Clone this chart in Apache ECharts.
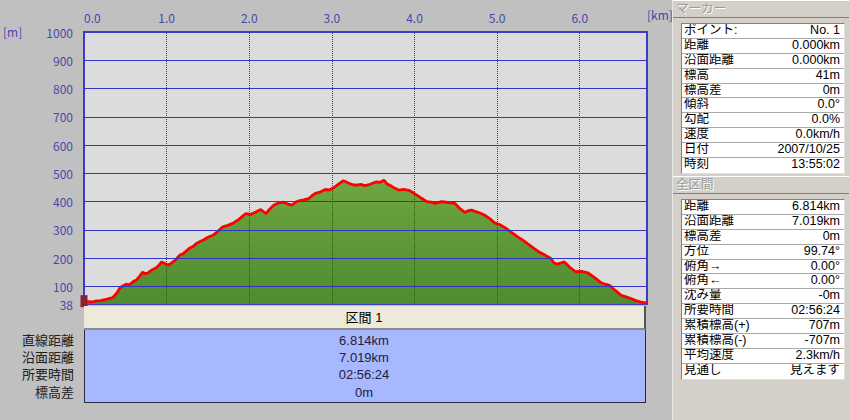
<!DOCTYPE html>
<html>
<head>
<meta charset="utf-8">
<script src="https://cdn.jsdelivr.net/npm/echarts@6/dist/echarts.min.js"></script>
<style>
  html,body{margin:0;padding:0;background:#c0c0c0;width:849px;height:420px;overflow:hidden;font-family:"Liberation Sans","Noto Sans CJK JP",sans-serif;}
  #chart{position:absolute;left:0;top:0;width:849px;height:420px;}
  #side{position:absolute;left:672px;top:0;width:177px;height:420px;background:#d4d0c8;border-left:1px solid #e8e8e8;box-sizing:border-box;}
  .hdr{position:absolute;left:0;width:177px;height:18px;background:#d4d0c8;border-top:1px solid #fff;border-bottom:1px solid #808080;box-sizing:border-box;color:#9a9a9a;font-size:12.5px;line-height:16px;padding-left:3px;text-shadow:1px 1px 0 #fff;overflow:hidden;}
  .tbl{position:absolute;left:8px;width:164px;background:#fff;border-top:1px solid #808080;border-left:1px solid #808080;border-right:1px solid #e0e0e0;border-bottom:1px solid #e0e0e0;box-sizing:border-box;}
  .row{position:relative;border-bottom:1px solid #a8a8a8;box-sizing:border-box;font-size:12.5px;color:#000;overflow:hidden;}
  .row .l{position:absolute;left:2px;top:0;white-space:nowrap;}
  .row .v{position:absolute;right:4px;top:0;white-space:nowrap;}
  #sect{position:absolute;left:84px;top:306px;width:562px;height:97px;}
  #sect .h{position:absolute;left:0;top:0;width:562px;height:24px;background:#eeeadb;border-bottom:2px solid #8a8a8a;border-right:2px solid #555;box-sizing:border-box;text-align:center;font-size:13px;line-height:23px;color:#000;}
  #sect .b{position:absolute;left:0;top:24px;width:562px;height:73px;background:#a7b8ff;border:1px solid #2a2a40;border-top:none;box-sizing:border-box;}
  .sv{position:absolute;left:0;width:560px;text-align:center;font-size:13px;line-height:15px;color:#202040;}
  .sl{position:absolute;right:775px;font-size:13px;line-height:15px;color:#202020;text-align:right;white-space:nowrap;}
</style>
</head>
<body>
<div id="chart"></div>
<div id="side"></div>
<div id="sect"></div>
<div id="sectLabels"></div>
<script>
// ---- data ----
var dist = [0.00,0.05,0.10,0.15,0.20,0.28,0.35,0.40,0.43,0.47,0.51,0.55,0.60,0.63,0.67,0.71,0.74,0.77,0.82,0.87,0.91,0.94,0.98,1.02,1.07,1.12,1.16,1.20,1.24,1.28,1.32,1.36,1.40,1.45,1.50,1.56,1.62,1.68,1.74,1.80,1.86,1.91,1.96,2.02,2.08,2.14,2.20,2.25,2.30,2.36,2.42,2.47,2.52,2.56,2.60,2.66,2.72,2.76,2.80,2.86,2.92,2.97,3.02,3.08,3.14,3.20,3.25,3.29,3.35,3.40,3.45,3.50,3.54,3.58,3.63,3.67,3.72,3.77,3.81,3.87,3.93,3.98,4.03,4.09,4.15,4.20,4.25,4.33,4.40,4.49,4.55,4.61,4.65,4.69,4.75,4.80,4.85,4.91,4.97,5.03,5.09,5.17,5.25,5.32,5.38,5.45,5.52,5.58,5.65,5.69,5.73,5.77,5.81,5.88,5.95,6.02,6.10,6.18,6.26,6.31,6.36,6.43,6.50,6.56,6.62,6.68,6.74,6.78,6.814];
var elev = [41,46,45,49,50,55,61,78,93,102,108,106,118,122,135,151,145,147,158,165,176,187,181,175,185,198,211,216,226,236,241,252,258,265,274,281,295,311,316,323,334,346,358,355,363,372,358,374,388,396,398,391,388,398,403,406,411,421,429,434,443,441,449,462,474,466,460,458,461,457,460,466,470,468,476,462,455,446,441,443,440,432,423,411,400,398,394,400,397,394,375,362,368,370,364,359,352,340,325,319,309,292,275,262,249,234,220,211,199,183,179,183,187,168,152,153,148,131,113,108,104,86,69,63,57,50,45,43,41];
var xTicks = [1,2,3,4,5,6];
var yTicks = [38,100,200,300,400,500,600,700,800,900,1000];

var markerLabels = ["ポイント:","距離","沿面距離","標高","標高差","傾斜","勾配","速度","日付","時刻"];
var markerValues = ["No. 1","0.000km","0.000km","41m","0m","0.0°","0.0%","0.0km/h","2007/10/25","13:55:02"];
var totalLabels = ["距離","沿面距離","標高差","方位","俯角→","俯角←","沈み量","所要時間","累積標高(+)","累積標高(-)","平均速度","見通し"];
var totalValues = ["6.814km","7.019km","0m","99.74°","0.00°","0.00°","-0m","02:56:24","707m","-707m","2.3km/h","見えます"];
var sectLabels = ["直線距離","沿面距離","所要時間","標高差"];
var sectValues = ["6.814km","7.019km","02:56:24","0m"];
var sectTitle = "区間 1";

// ---- side panel ----
function buildTable(top, rowH, labels, values){
  var t = document.createElement('div'); t.className='tbl'; t.style.top = top+'px';
  for (var i=0;i<labels.length;i++){
    var r = document.createElement('div'); r.className='row';
    r.style.height = rowH+'px'; r.style.lineHeight = (rowH-1)+'px';
    if (i===labels.length-1) r.style.borderBottom='none';
    r.innerHTML = '<span class="l">'+labels[i]+'</span><span class="v">'+values[i]+'</span>';
    t.appendChild(r);
  }
  return t;
}
var side = document.getElementById('side');
var h1 = document.createElement('div'); h1.className='hdr'; h1.style.top='0px'; h1.textContent='マーカー'; side.appendChild(h1);
side.appendChild(buildTable(23, 14.9, markerLabels, markerValues));
var h2 = document.createElement('div'); h2.className='hdr'; h2.style.top='176px'; h2.textContent='全区間'; side.appendChild(h2);
side.appendChild(buildTable(199, 14.9, totalLabels, totalValues));

// ---- section table ----
var sect = document.getElementById('sect');
sect.innerHTML = '<div class="h">'+sectTitle+'</div><div class="b"></div>';
var rowsY = [341,358,375,393];
for (var i=0;i<sectValues.length;i++){
  var v = document.createElement('div'); v.className='sv';
  v.style.top = (rowsY[i]-306-8)+'px'; v.textContent = sectValues[i];
  sect.appendChild(v);
  var l = document.createElement('div'); l.className='sl';
  l.style.top = (rowsY[i]-8)+'px'; l.textContent = sectLabels[i];
  document.getElementById('sectLabels').appendChild(l);
}

// ---- chart ----
var data = dist.map(function(d,i){return [d, elev[i]];});
var chart = echarts.init(document.getElementById('chart'), null, {renderer:'svg'});
var blue = '#3434c4';
var labelColor = '#4848a8';
chart.setOption({
  animation:false,
  grid:{left:84,right:202,top:32,bottom:116,show:true,backgroundColor:'#dcdcdc',borderColor:'#3c3cc8',borderWidth:2},
  xAxis:{type:'value',position:'top',min:0,max:6.814,interval:1,
    axisLine:{show:false},axisTick:{show:false},splitLine:{show:false},
    axisLabel:{color:labelColor,fontSize:12,fontFamily:'Noto Sans CJK JP',margin:9,showMaxLabel:false,alignMinLabel:'left',
      formatter:function(v){return v.toFixed(1);}}},
  yAxis:{type:'value',min:38,max:1000,
    axisLine:{show:false},axisTick:{show:false},splitLine:{show:false},
    axisLabel:{color:labelColor,fontSize:12,fontFamily:'Noto Sans CJK JP',margin:11,customValues:yTicks,
      formatter:function(v){return String(v);}}},
  graphic:[
    {type:'text',left:647,top:8,style:{text:'[km]',fill:labelColor,font:'12px "Noto Sans CJK JP"'}},
    {type:'text',left:3,top:25,style:{text:'[m]',fill:labelColor,font:'12px "Noto Sans CJK JP"'}}
  ],
  series:[
    {type:'line',data:data,showSymbol:false,z:1,lineStyle:{width:0},
      areaStyle:{opacity:1,color:new echarts.graphic.LinearGradient(0,0,0,1,[{offset:0,color:'#6ea640'},{offset:1,color:'#4e8c30'}])},
      markLine:{silent:true,symbol:['none','none'],label:{show:false},animation:false,
        data: yTicks.filter(function(v){return v>38 && v<1000;}).map(function(v){return {yAxis:v,lineStyle:{type:'solid',color:blue,width:1}};})
          .concat(xTicks.map(function(v){return {xAxis:v,lineStyle:{type:'dotted',color:blue,width:1}};}))}
    },
    {type:'line',data:data,showSymbol:false,z:3,lineStyle:{color:'#ff0000',width:2.8},
      markPoint:{silent:true,symbol:'rect',symbolSize:[7,12],symbolOffset:[0,-2],itemStyle:{color:'#8a2030'},label:{show:false},
        data:[{coord:[dist[0],elev[0]]}]}
    }
  ]
});
</script>
</body>
</html>
